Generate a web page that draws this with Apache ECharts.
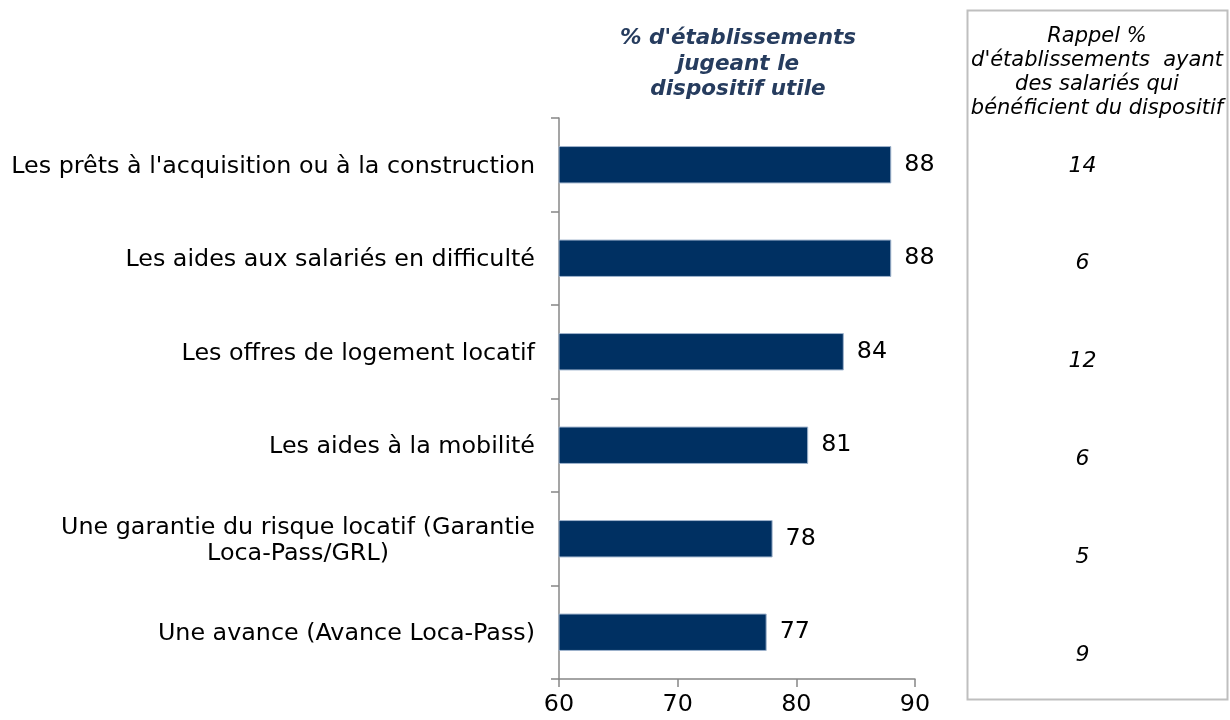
<!DOCTYPE html>
<html>
<head>
<meta charset="utf-8">
<script src="https://cdn.jsdelivr.net/npm/echarts@6/dist/echarts.min.js"></script>
<style>
  html, body { margin: 0; padding: 0; background: #fff; }
  #chart { width: 1230px; height: 720px; }
</style>
</head>
<body>
<div id="chart"></div>
<script>
// categories top -> bottom
var categories = [
    "Les prêts à l'acquisition ou à la construction",
    "Les aides aux salariés en difficulté",
    "Les offres de logement locatif",
    "Les aides à la mobilité",
    "Une garantie du risque locatif (Garantie\nLoca-Pass/GRL)",
    "Une avance (Avance Loca-Pass)"
];
var usefulValues = [88, 88, 84, 81, 78, 77.5];
var usefulLabels = ["88", "88", "84", "81", "78", "77"];
var beneficiaryValues = ["14", "6", "12", "6", "5", "9"];
var xTicks = [60, 70, 80, 90];

var FONT = '"DejaVu Sans", Verdana, sans-serif';
var AXIS_GREY = '#878787';
var FS = 23.8;

var chart = echarts.init(document.getElementById('chart'));

// category axis is drawn bottom -> top, so reverse
var catRev = categories.slice().reverse();
var valRev = usefulValues.slice().reverse();
var lblRev = usefulLabels.slice().reverse();
var benRev = beneficiaryValues.slice().reverse();

var option = {
    animation: false,
    backgroundColor: '#fff',
    textStyle: { fontFamily: FONT },
    grid: [
        { left: 559, width: 356, top: 118, height: 561 },
        { left: 968, width: 260, top: 117, height: 587 }
    ],
    xAxis: [{
        gridIndex: 0,
        type: 'value',
        min: xTicks[0],
        max: xTicks[xTicks.length - 1],
        interval: 10,
        axisLine: { show: true, lineStyle: { color: AXIS_GREY, width: 1.5 } },
        axisTick: { show: true, length: 8, lineStyle: { color: AXIS_GREY, width: 1.5 } },
        splitLine: { show: false },
        axisLabel: { color: '#000', fontSize: FS, fontFamily: FONT, margin: 14 }
    }, {
        gridIndex: 1,
        type: 'value',
        min: 0,
        max: 1,
        show: false
    }],
    yAxis: [{
        gridIndex: 0,
        type: 'category',
        data: catRev,
        axisLine: { show: true, lineStyle: { color: AXIS_GREY, width: 1.5 } },
        axisTick: { show: true, length: 8, lineStyle: { color: AXIS_GREY, width: 1.5 } },
        axisLabel: {
            color: '#000',
            fontSize: FS,
            fontFamily: FONT,
            margin: 24,
            lineHeight: 26,
            padding: [4, 0, 0, 0],
            formatter: function (v) {
                if (v.indexOf('\n') >= 0) {
                    return v.split('\n').map(function (s) { return '{c|' + s + '}'; }).join('\n');
                }
                return v;
            },
            rich: {
                c: { align: 'center', fontSize: FS, fontFamily: FONT, color: '#000', lineHeight: 26 }
            }
        }
    }, {
        gridIndex: 1,
        type: 'category',
        data: catRev,
        show: false
    }],
    series: [{
        type: 'bar',
        xAxisIndex: 0,
        yAxisIndex: 0,
        data: valRev,
        barWidth: '40%',
        itemStyle: { color: '#003062', borderColor: '#9fb3cc', borderWidth: 1 },
        label: {
            show: true,
            position: 'right',
            distance: 13,
            color: '#000',
            fontSize: FS,
            fontFamily: FONT,
            formatter: function (p) { return lblRev[p.dataIndex]; }
        }
    }, {
        type: 'scatter',
        xAxisIndex: 1,
        yAxisIndex: 1,
        symbolSize: 0,
        itemStyle: { opacity: 1 },
        data: benRev.map(function (v, i) { return [0.44, catRev[i]]; }),
        label: {
            show: true,
            position: 'inside',
            color: '#000',
            fontSize: 22,
            fontStyle: 'italic',
            fontFamily: FONT,
            formatter: function (p) { return benRev[p.dataIndex]; }
        }
    }],
    graphic: [{
        type: 'rect',
        shape: { x: 967.5, y: 10.5, width: 260, height: 689 },
        style: { fill: 'none', stroke: '#bfbfbf', lineWidth: 2 }
    }, {
        type: 'text',
        x: 1097,
        y: 25,
        style: {
            text: "Rappel %\nd'établissements  ayant\ndes salariés qui\nbénéficient du dispositif",
            align: 'center',
            verticalAlign: 'top',
            fontSize: 21,
            lineHeight: 24,
            fontStyle: 'italic',
            fontFamily: FONT,
            fill: '#000'
        }
    }, {
        type: 'text',
        x: 738,
        y: 26,
        style: {
            text: "% d'établissements\njugeant le\ndispositif utile",
            align: 'center',
            verticalAlign: 'top',
            fontSize: 21.5,
            lineHeight: 25.5,
            fontStyle: 'italic',
            fontWeight: 'bold',
            fontFamily: FONT,
            fill: '#263c5e'
        }
    }]
};

chart.setOption(option);
</script>
</body>
</html>
